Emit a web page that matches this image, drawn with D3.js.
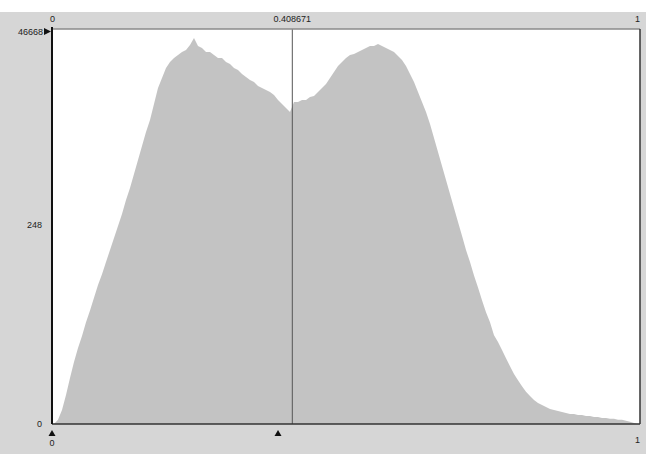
<!DOCTYPE html>
<html>
<head>
<meta charset="utf-8">
<script src="https://cdn.jsdelivr.net/npm/d3@7"></script>
<style>
  body { margin:0; background:#ffffff; }
  text { font-family:"Liberation Sans", Arial, sans-serif; font-size:9px; fill:#222; }
</style>
</head>
<body>
<svg id="chart"></svg>
<script>
// histogram counts, 147 equal bins over [0,1]
var counts = [0, 0.12, 0.46, 1.2, 2.5, 4.4, 6.9, 10, 15, 21, 30, 43, 58, 81, 113, 157, 218, 303, 444, 615,
  901, 1320, 1932, 2830, 3922, 6063, 9367, 12300, 16150, 19010, 21200, 22990, 24950, 26350, 30190, 36550, 29370, 27820, 24950, 24950,
  22990, 21200, 21200, 19010, 18010, 16150, 15290, 13710, 12640, 11650, 11030, 9900, 9367, 8870, 8400, 7740, 6760, 6063, 5440, 4880,
  6400, 6400, 6760, 6760, 7330, 7540, 8400, 9367, 10450, 12300, 14480, 17060, 19010, 21200, 22990, 23650, 24950, 26350, 27820, 29370,
  29370, 31040, 29370, 27820, 26350, 24950, 22370, 20080, 17060, 13710, 11030, 8400, 6400, 4880, 3520, 2403, 1641, 1121, 766, 523,
  357, 244, 167, 113, 81, 56, 40, 28, 20, 15, 10.2, 8.3, 6.5, 5.0, 3.8, 2.9, 2.3, 1.8, 1.4, 1.14,
  0.92, 0.77, 0.68, 0.59, 0.5, 0.46, 0.42, 0.39, 0.35, 0.31, 0.31, 0.28, 0.28, 0.24, 0.24, 0.21, 0.21, 0.18, 0.18, 0.15,
  0.15, 0.12, 0.12, 0.09, 0.06, 0.03, 0];
var yTicks = [0, 248, 46668];
var xTicksTop = [0, 0.408671, 1];
var xTicksBottom = [0, 1];
var cursorValue = 0.408671;
var markerValues = [0, 0.3844];

var screen = {width:646, height:454};
var margins = {left:52, right:6, top:29, bottom:30};
var graph = {
  width: screen.width - margins.left - margins.right,
  height: screen.height - margins.top - margins.bottom
};

var svg = d3.select("#chart")
  .attr("width", screen.width)
  .attr("height", screen.height);

// gray panel
svg.append("rect")
  .attr("x", 0).attr("y", 12)
  .attr("width", screen.width).attr("height", screen.height - 12)
  .attr("fill", "#d6d6d6");

var xScale = d3.scaleLinear().domain([0, 1]).range([0, graph.width]);
var yScale = d3.scaleSymlog().constant(1).domain([0, d3.max(yTicks)]).range([graph.height, 0]);

var target = svg.append("g")
  .attr("transform", "translate(" + margins.left + "," + margins.top + ")");

target.append("rect")
  .attr("width", graph.width).attr("height", graph.height)
  .attr("fill", "#ffffff");

var n = counts.length;
var areaGen = d3.area()
  .x(function(d, i) { return xScale((i + 0.5) / n); })
  .y0(graph.height)
  .y1(function(d) { return yScale(d); });

target.append("path")
  .datum(counts)
  .attr("d", areaGen)
  .attr("fill", "#c3c3c3");

// cursor line
target.append("line")
  .attr("x1", xScale(cursorValue)).attr("x2", xScale(cursorValue))
  .attr("y1", 0).attr("y2", graph.height)
  .attr("stroke", "#555").attr("stroke-width", 1);

// frame
target.append("line").attr("x1", 0).attr("x2", graph.width).attr("y1", 0).attr("y2", 0)
  .attr("stroke", "#8a8a8a").attr("stroke-width", 1.5);
target.append("line").attr("x1", graph.width).attr("x2", graph.width).attr("y1", 0).attr("y2", graph.height)
  .attr("stroke", "#333").attr("stroke-width", 1.5);
target.append("line").attr("x1", 0).attr("x2", graph.width).attr("y1", graph.height).attr("y2", graph.height)
  .attr("stroke", "#333").attr("stroke-width", 1.5);
target.append("line").attr("x1", 0).attr("x2", 0).attr("y1", -2).attr("y2", graph.height)
  .attr("stroke", "#111").attr("stroke-width", 2);

// top labels
target.selectAll(".topLabel")
  .data(xTicksTop)
  .enter()
  .append("text")
  .attr("x", function(d) { return xScale(d); })
  .attr("y", -7)
  .attr("text-anchor", function(d, i) { return i == 0 ? "start" : (i == xTicksTop.length - 1 ? "end" : "middle"); })
  .attr("dx", function(d, i) { return i == 0 ? -2 : 0; })
  .text(function(d) { return d; });

// left labels
target.selectAll(".leftLabel")
  .data(yTicks)
  .enter()
  .append("text")
  .attr("x", function(d, i) { return i == yTicks.length - 1 ? -9 : -10; })
  .attr("y", function(d) { return yScale(d) + 3; })
  .attr("dy", function(d, i) { return i == 1 ? 4 : (i == yTicks.length - 1 ? 3 : 0); })
  .attr("text-anchor", "end")
  .text(function(d) { return d; });

// marker pointing right at top of y axis
target.append("path")
  .attr("d", "M-8,-1 L-1,2.5 L-8,6 Z")
  .attr("fill", "#111");

// bottom markers
target.selectAll(".marker")
  .data(markerValues)
  .enter()
  .append("path")
  .attr("transform", function(d) { return "translate(" + xScale(d) + "," + (graph.height + 6) + ")"; })
  .attr("d", "M0,0 L3.5,6 L-3.5,6 Z")
  .attr("fill", "#111");

// bottom labels
target.selectAll(".bottomLabel")
  .data(xTicksBottom)
  .enter()
  .append("text")
  .attr("x", function(d) { return xScale(d); })
  .attr("y", function(d, i) { return i == 0 ? graph.height + 22 : graph.height + 19; })
  .attr("text-anchor", function(d, i) { return i == 0 ? "middle" : "end"; })
  .text(function(d) { return d; });
</script>
</body>
</html>
